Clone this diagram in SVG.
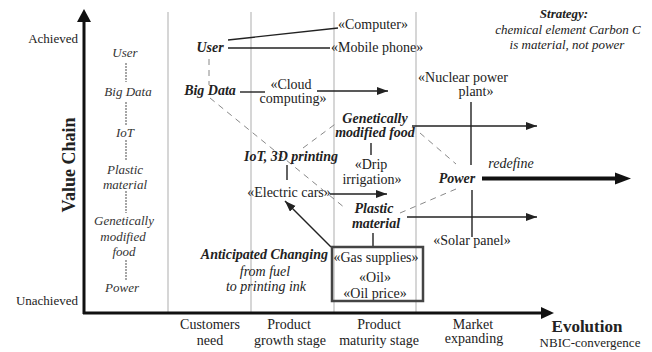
<svg xmlns="http://www.w3.org/2000/svg" width="652" height="352" viewBox="0 0 652 352">
<style>
text{font-family:"Liberation Serif","DejaVu Serif",serif;fill:#222;font-size:14px}
.c{text-anchor:middle}
.bi{font-weight:bold;font-style:italic}
.it{font-style:italic}
.lv{font-style:italic;font-size:13px;fill:#333;text-anchor:middle}
.ln{stroke:#222;stroke-width:1.4;fill:none}
.ds{stroke:#888;stroke-width:1;stroke-dasharray:6,5;fill:none}
.dot{stroke:#777;stroke-width:1.3;stroke-dasharray:2,1;fill:none}
.grid{stroke:#c8c8c8;stroke-width:1.5}
</style>
<defs>
<marker id="ah" markerUnits="userSpaceOnUse" markerWidth="12" markerHeight="10" refX="11" refY="4" orient="auto">
<path d="M0,0 L11,4 L0,8 z" fill="#222"/>
</marker>
</defs>
<rect width="652" height="352" fill="#fff"/>
<g id="grid">
<line class="grid" x1="168" y1="12" x2="168" y2="312"/>
<line class="grid" x1="251" y1="12" x2="251" y2="312"/>
<line class="grid" x1="334" y1="12" x2="334" y2="312"/>
<line class="grid" x1="416" y1="12" x2="416" y2="312"/>
</g>
<g id="axes">
<line x1="84" y1="314" x2="84" y2="20" stroke="#111" stroke-width="3"/>
<polygon points="84,9 77,22 91,22" fill="#111"/>
<line x1="83" y1="313" x2="543" y2="313" stroke="#111" stroke-width="3"/>
<polygon points="554,313 541,307 541,319" fill="#111"/>
<text x="78" y="43" style="text-anchor:end;font-size:13px">Achieved</text>
<text x="78" y="305" style="text-anchor:end;font-size:13px">Unachieved</text>
<text transform="translate(75,165) rotate(-90)" class="c" style="font-weight:bold;font-size:18px">Value Chain</text>
<text x="587" y="332" class="c" style="font-weight:bold;font-size:17px">Evolution</text>
<text x="590" y="347" class="c" style="font-size:13px">NBIC-convergence</text>
<text x="210" y="329" class="c">Customers</text>
<text x="210" y="345" class="c">need</text>
<text x="289" y="329" class="c">Product</text>
<text x="290" y="345" class="c">growth stage</text>
<text x="379" y="329" class="c">Product</text>
<text x="379" y="345" class="c">maturity stage</text>
<text x="473" y="329" class="c">Market</text>
<text x="474" y="343" class="c">expanding</text>
</g>
<g id="levels">
<text x="125" y="57" class="lv">User</text>
<text x="128" y="96" class="lv">Big Data</text>
<text x="125" y="137" class="lv">IoT</text>
<text x="125" y="174" class="lv">Plastic</text>
<text x="125" y="189" class="lv">material</text>
<text x="124" y="225" class="lv">Genetically</text>
<text x="123" y="241" class="lv">modified</text>
<text x="124" y="256" class="lv">food</text>
<text x="122" y="292" class="lv">Power</text>
<line class="dot" x1="126" y1="63" x2="126" y2="82"/>
<line class="dot" x1="126" y1="102" x2="126" y2="125"/>
<line class="dot" x1="126" y1="140" x2="126" y2="160"/>
<line class="dot" x1="126" y1="191" x2="126" y2="213"/>
<line class="dot" x1="126" y1="260" x2="126" y2="280"/>
</g>
<g id="strategy">
<text x="564" y="18" class="c bi" style="font-size:13px">Strategy:</text>
<text x="568" y="34" class="c it" style="font-size:13px">chemical element Carbon C</text>
<text x="567" y="49" class="c it" style="font-size:13px">is material, not power</text>
</g>
<g id="connectors">
<line class="ln" x1="228" y1="40" x2="338" y2="28"/>
<line class="ln" x1="228" y1="48" x2="330" y2="48"/>
<line class="ds" x1="209" y1="59" x2="209" y2="85"/>
<line class="ln" x1="240" y1="92" x2="265" y2="92"/>
<line class="ln" x1="317" y1="91" x2="388" y2="91" marker-end="url(#ah)"/>
<line class="ds" x1="210" y1="98" x2="345" y2="208"/>
<line class="ds" x1="303" y1="148" x2="338" y2="122"/>
<line class="ds" x1="420" y1="133" x2="456" y2="164"/>
<line class="ds" x1="400" y1="213" x2="456" y2="189"/>
<line class="ln" x1="412" y1="126" x2="537" y2="126" marker-end="url(#ah)"/>
<line class="ln" x1="471" y1="102" x2="471" y2="165"/>
<line class="ln" x1="472" y1="190" x2="472" y2="237"/>
<line class="ln" x1="407" y1="217" x2="537" y2="217" marker-end="url(#ah)"/>
<line class="ln" x1="371" y1="143" x2="371" y2="155"/>
<line class="ln" x1="287" y1="165" x2="287" y2="180"/>
<line class="ln" x1="330" y1="194" x2="387" y2="194" marker-end="url(#ah)"/>
<line class="ln" x1="331" y1="247" x2="285" y2="201" marker-end="url(#ah)"/>
<line class="ln" x1="373" y1="233" x2="373" y2="247"/>
<line x1="482" y1="178.5" x2="617" y2="178.5" stroke="#111" stroke-width="4"/>
<polygon points="631,178.5 615,172.5 615,184.5" fill="#111"/>
<text x="511" y="168" class="c it">redefine</text>
</g>
<g id="user"><text x="210" y="52" class="c bi">User</text></g>
<g id="computer"><text x="338" y="29">«Computer»</text></g>
<g id="mobile"><text x="331" y="52">«Mobile phone»</text></g>
<g id="bigdata"><text x="210" y="95" class="c bi">Big Data</text></g>
<g id="cloud"><text x="291" y="89" class="c">«Cloud</text><text x="293" y="103" class="c">computing»</text></g>
<g id="nuclear"><text x="463" y="82" class="c">«Nuclear power</text><text x="476" y="96" class="c">plant»</text></g>
<g id="gmfood"><text x="375" y="123" class="c bi">Genetically</text><text x="375" y="137" class="c bi">modified food</text></g>
<g id="iot"><text x="291" y="161" class="c bi">IoT, 3D printing</text></g>
<g id="drip"><text x="371" y="169" class="c">«Drip</text><text x="372" y="184" class="c">irrigation»</text></g>
<g id="power"><text x="457" y="183" class="c bi">Power</text></g>
<g id="ecars"><text x="289" y="197" class="c">«Electric cars»</text></g>
<g id="plastic"><text x="374" y="213" class="c bi">Plastic</text><text x="376" y="228" class="c bi">material</text></g>
<g id="solar"><text x="472" y="245" class="c">«Solar panel»</text></g>
<g id="oilbox">
<text x="376" y="262" class="c">«Gas supplies»</text>
<text x="375" y="282" class="c">«Oil»</text>
<text x="375" y="298" class="c">«Oil price»</text>
<rect x="332" y="247" width="91" height="54" fill="none" stroke="#444" stroke-width="2.5"/>
</g>
<g id="anticipated">
<text x="328" y="259" style="text-anchor:end" class="bi">Anticipated Changing</text>
<text x="265" y="276" class="c it">from fuel</text>
<text x="266" y="291" class="c it">to printing ink</text>
</g>
</svg>
